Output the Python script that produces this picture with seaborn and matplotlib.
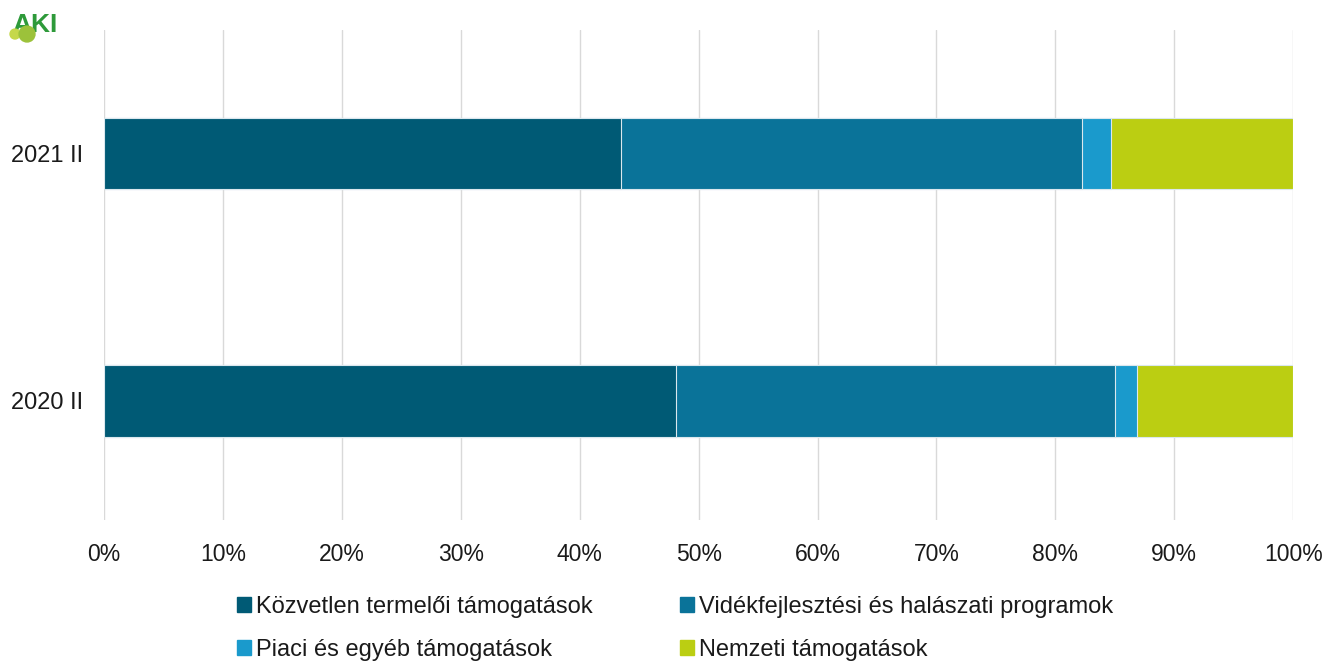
import numpy as np
import pandas as pd
import matplotlib.pyplot as plt
import matplotlib.patches as mpatches
import seaborn as sns

# Data (percentage shares)
periods = ['2021 II', '2020 II']
kozvetlen = [43.5, 48.1]
videk = [38.7, 36.9]
piaci = [2.5, 1.9]
nemzeti = [15.3, 13.1]

series_names = ['Közvetlen termelői támogatások',
                'Vidékfejlesztési és halászati programok',
                'Piaci és egyéb támogatások',
                'Nemzeti támogatások']
colors = ['#005a75', '#0a7399', '#1a9acc', '#bbce12']

sns.set_style("white")
plt.rcParams['font.family'] = ['Liberation Sans', 'DejaVu Sans']
plt.rcParams['text.color'] = '#1a1a1a'
plt.rcParams['xtick.color'] = '#1a1a1a'
plt.rcParams['ytick.color'] = '#1a1a1a'

df = pd.DataFrame({'period': periods, series_names[0]: kozvetlen,
                   series_names[1]: videk, series_names[2]: piaci,
                   series_names[3]: nemzeti})
# cumulative shares for stacking
cum = df[series_names].cumsum(axis=1)

fig = plt.figure(figsize=(13.25, 6.62), dpi=100)
ax = fig.add_axes([0.0785, 0.215, 0.8975, 0.74])

# overlay bars from the largest cumulative value down
for name, col in reversed(list(zip(series_names, colors))):
    sns.barplot(x=cum[name], y=df['period'], order=periods, color=col,
                width=0.29, edgecolor='#dbe8ee', linewidth=0.8,
                orient='h', ax=ax, saturation=1)

ax.set_xlim(0, 100)
ax.set_ylim(1.48, -0.5)
ax.set_xticks(np.arange(0, 101, 10))
ax.set_xticklabels([f'{v}%' for v in range(0, 101, 10)], fontsize=16.5)
ax.tick_params(axis='y', labelsize=17, length=0, pad=15)
ax.tick_params(axis='x', length=0, pad=17)
ax.set_xlabel('')
ax.set_ylabel('')
ax.grid(axis='x', color='#d9d9d9', linewidth=1)
ax.set_axisbelow(True)
for s in ax.spines.values():
    s.set_visible(False)

# legend filled row by row (matplotlib fills by column, so reorder)
order = [0, 2, 1, 3]
handles = [plt.Rectangle((0, 0), 1, 1, color=colors[i]) for i in order]
labels = [series_names[i] for i in order]
fig.legend(handles, labels, loc='lower left', bbox_to_anchor=(0.1627, -0.031),
           ncol=2, frameon=False, fontsize=17, handlelength=0.6, handleheight=0.6,
           handletextpad=0.2, columnspacing=3.7, labelspacing=0.9)

# AKI logo approximation
fig.text(0.0095, 0.952, 'AKI', color='#2e9a3a', fontsize=19, fontweight='bold',
         family='Liberation Sans', zorder=1)
fig.patches.append(mpatches.Ellipse((0.0113, 0.9486), 0.0075, 0.015, color='#c5d84a',
                                    transform=fig.transFigure, figure=fig, zorder=5))
fig.patches.append(mpatches.Ellipse((0.0204, 0.9486), 0.012, 0.024, color='#9cc23a',
                                    transform=fig.transFigure, figure=fig, zorder=5))

fig.savefig('out.png', dpi=100)
